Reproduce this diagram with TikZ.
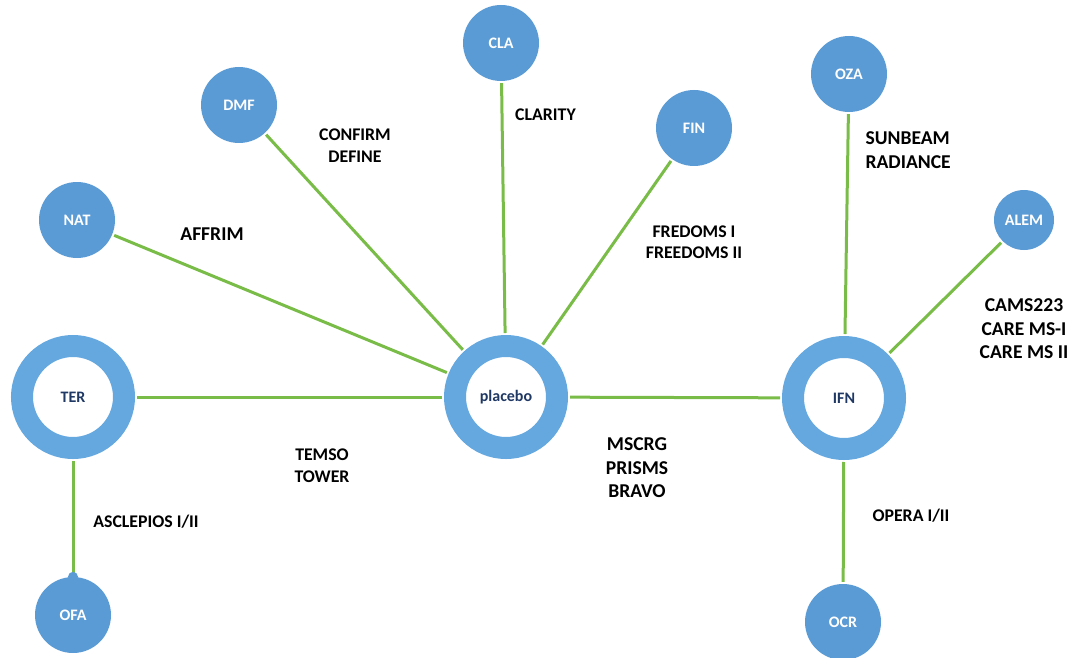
\documentclass[tikz,border=0pt]{standalone}
\usepackage{fontspec}
\setmainfont{Carlito}
\usepackage{tikz}

\definecolor{nodeblue}{RGB}{91,155,213}
\definecolor{ringblue}{RGB}{101,168,224}
\definecolor{linkgreen}{RGB}{122,188,72}
\definecolor{navytext}{RGB}{31,56,100}

\begin{document}
\begin{tikzpicture}[x=1pt, y=-1pt,
		drug/.style = {circle, fill=nodeblue, inner sep=0pt, minimum size=76pt, text=white, font=\fontsize{16}{18}\selectfont\bfseries},
		hub/.style = {circle, draw=ringblue, line width=22pt, inner sep=0pt, minimum size=102pt, text=navytext, font=\fontsize{16}{18}\selectfont\bfseries},
		link/.style = {draw=linkgreen, line width=3pt, shorten <=2pt, shorten >=2pt},
		trial/.style = {align=center, font=\fontsize{17.8}{21.5}\selectfont\bfseries},
		bigtrial/.style = {align=center, font=\fontsize{19.6}{23.5}\selectfont\bfseries}]
				\useasboundingbox (0,0) rectangle (1071,658);
				%hub nodes
				\node[hub] (ter) at (73,397) {TER};
				\node[hub] (pla) at (506,397) {placebo};
				\node[hub] (ifn) at (844,398) {IFN};
				%drug nodes
				\node[drug] (nat) at (77,220) {NAT};
				\node[drug] (dmf) at (239,105) {DMF};
				\node[drug] (cla) at (501,43) {CLA};
				\node[drug] (fin) at (694,128) {FIN};
				\node[drug] (oza) at (849,74) {OZA};
				\node[drug, minimum size=60pt] (alem) at (1024,220) {ALEM};
				\node[drug] (ofa) at (73,615) {OFA};
				\node[drug] (ocr) at (843,622) {OCR};
				%connectors
				\draw[link] (pla) -- (nat);
				\draw[link] (pla) -- (dmf);
				\draw[link] (pla) -- (cla);
				\draw[link] (pla) -- (fin);
				\draw[link] (pla) -- (ter);
				\draw[link] (pla) -- (ifn);
				\draw[link] (ifn) -- (oza);
				\draw[link] (ifn) -- (alem);
				\draw[link] (ifn) -- (ocr);
				\draw[link, shorten >=0pt] (ter) -- (ofa.north);
				\fill[nodeblue] (ofa.north) circle (5pt);
				%trial labels
				\node[bigtrial] (affrim) at (212,234) {AFFRIM};
				\node[trial] (confirm) at (355,145.5) {CONFIRM\\DEFINE};
				\node[trial] (clarity) at (545.5,115) {CLARITY};
				\node[trial] (fredoms) at (694,242) {FREDOMS I\\FREEDOMS II};
				\node[bigtrial, align=left, anchor=west] (sunbeam) at (862,150) {SUNBEAM\\RADIANCE};
				\node[bigtrial] (cams) at (1024,329) {CAMS223\\CARE MS-I\\CARE MS II};
				\node[trial] (temso) at (322,465.5) {TEMSO\\TOWER};
				\node[bigtrial] (mscrg) at (637,468) {MSCRG\\PRISMS\\BRAVO};
				\node[trial] (asclepios) at (146,522) {ASCLEPIOS I/II};
				\node[trial] (opera) at (911,516) {OPERA I/II};
			\end{tikzpicture}
\end{document}
